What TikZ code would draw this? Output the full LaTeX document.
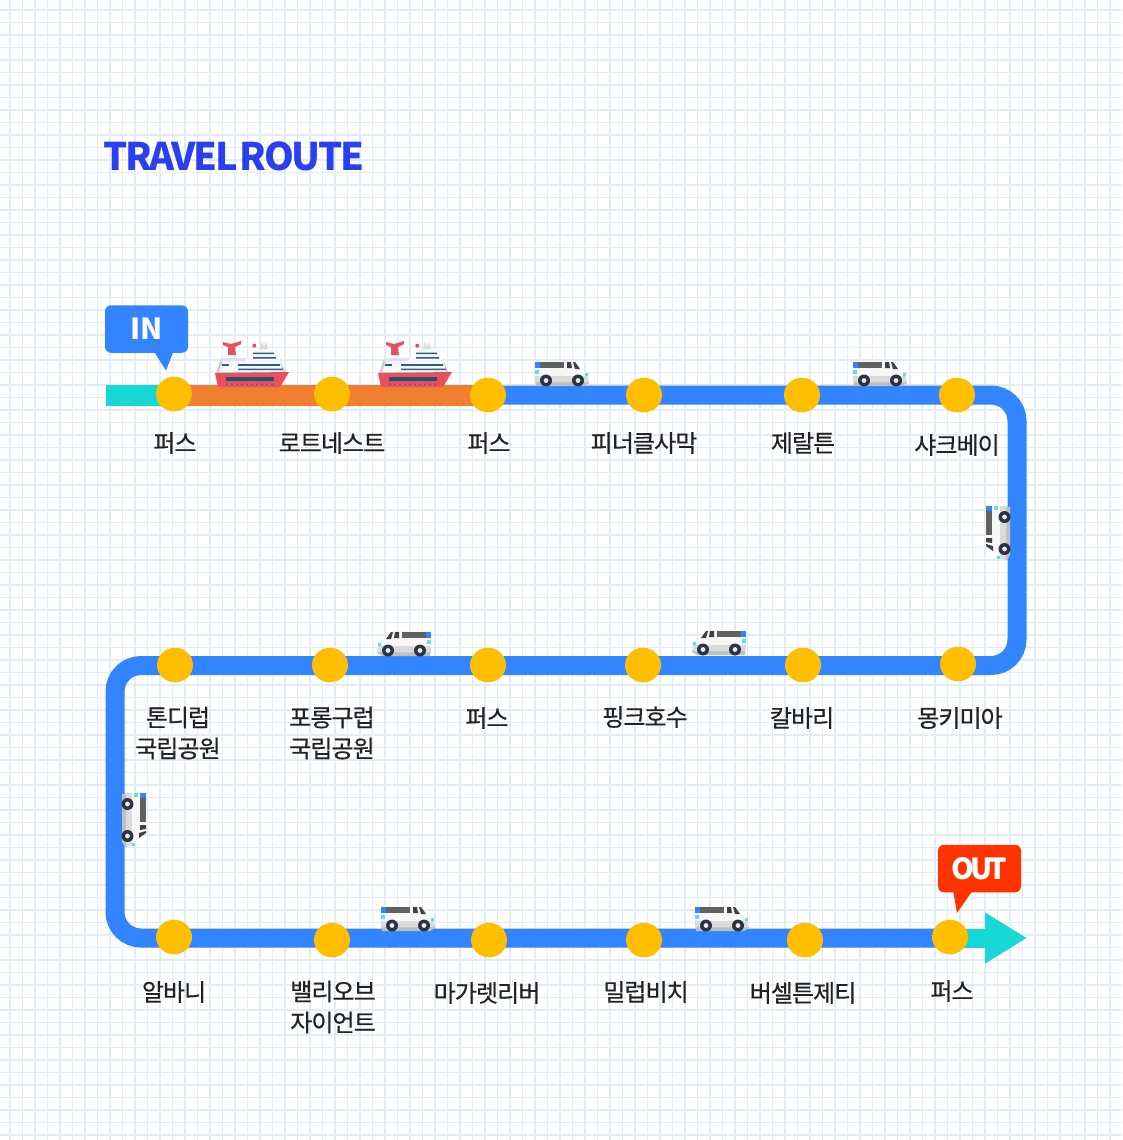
\documentclass[tikz,border=0pt]{standalone}
\usepackage{fontspec}
\setmainfont[LetterSpace=-4,FakeBold=0.45]{Noto Sans CJK KR}
\newfontfamily\headfont[LetterSpace=-6]{Noto Sans CJK KR}
\newfontfamily\tagfont{Noto Sans CJK KR}
\newfontfamily\tighttagfont[LetterSpace=-14]{Noto Sans CJK KR}
\usetikzlibrary{arrows.meta,backgrounds}
\definecolor{gridblue}{HTML}{E2ECF7}
\definecolor{titleblue}{HTML}{2A40F0}
\definecolor{roadblue}{HTML}{3385FF}
\definecolor{roadteal}{HTML}{17D7D7}
\definecolor{roadorange}{HTML}{F08030}
\definecolor{stopyellow}{HTML}{FFBF00}
\definecolor{outred}{HTML}{FF3300}
\definecolor{ink}{HTML}{222222}
\definecolor{hullred}{HTML}{E8505F}
\definecolor{deckblue}{HTML}{2F5F85}
\definecolor{tyre}{HTML}{2B3440}
\tikzset{
  van/.pic={
    \fill[black!25] (-26,-6) -- (27,-6) -- (28,-10) -- (23,-13) -- (-25,-13) -- cycle;
    \fill[black!3] (-26,12) -- (14,12) -- (22,2) -- (27,-1) -- (27,-9) -- (-26,-9) -- cycle;
    \fill[black!14] (-26,-3) -- (27,-3) -- (27,-9) -- (-26,-9) -- cycle;
    \fill[black!62] (-21,11) rectangle (3,5);
    \fill[roadblue] (-26,11) rectangle (-21,5);
    \fill[black!75] (6,11) -- (10,11) -- (11,5) -- (6,5) -- cycle;
    \fill[black!75] (12,11) -- (14,11) -- (19,4) -- (14,4) -- cycle;
    \fill[roadteal!70] (-26,3) rectangle (-22,-1);
    \fill[roadteal!70] (24,0) rectangle (27,-3);
    \foreach \wx in {-15,17}{
      \fill[tyre] (\wx,-7.5) circle (6);
      \fill[black!8] (\wx,-7.5) circle (2.4);
    }
  },
  ship/.pic={
    \fill[black!20] (-35,-9) -- (36,-9) -- (33,-5) -- (29,7) -- (-30,7) -- cycle;
    \fill[black!3] (-27,7) -- (29,7) -- (32,-7) -- (-32,-7) -- cycle;
    \fill[black!3] (2,15) -- (26,15) -- (27,7) -- (2,7) -- cycle;
    \fill[black!15] (9,16) -- (11,23) -- (13,18) -- (15,23) -- (17,16) -- cycle;
    \fill[blue!13] (-30,7) rectangle (-5,4);
    \fill[hullred] (-28,23) -- (-20,21) -- (-10,24) -- (-10,21) -- (-16,18) -- (-15,10) -- (-23,10) -- (-23,18) -- (-28,20) -- cycle;
    \fill[hullred] (3.3,19.3) circle (2);
    \fill[hullred] (-36,-8) -- (38,-7) -- (29,-22) -- (-33,-22) -- cycle;
    \fill[deckblue] (2,12.5) rectangle (23,11) (2,8) rectangle (25,6.5);
    \fill[deckblue] (-13,.8) rectangle (29,-.8) (-13,-3.5) rectangle (32,-5.1);
    \fill[deckblue] (-29,.8) rectangle (-22,-.8);
    \fill[deckblue!85!black] (-25,-11.7) rectangle (23,-15.7);
    \foreach \dx in {-24,-19,...,22}{
      \fill[deckblue] (\dx,-19.3) circle (.9);
    }
  }
}
\begin{document}
\begin{tikzpicture}[
  x=1pt,y=1pt,
  gridline/.style={draw=gridblue,line width=1.5pt},
  road/.style={line width=19pt},
  stop/.style={circle,fill=stopyellow,minimum width=36pt,minimum height=36pt,inner sep=0pt,
    xscale=1,yscale=.96},
  place/.style={font=\fontsize{24}{31}\selectfont,text=ink,align=center,inner sep=0pt},
  bubble/.style={rounded corners=6pt,minimum width=83pt,minimum height=47.5pt,inner sep=0pt,
    text=white,font=\bfseries\fontsize{29}{32}\selectfont}
]
\path[use as bounding box] (0,0) rectangle (1122,-1140);

\node[anchor=west,inner sep=0pt,text=titleblue,font=\headfont\bfseries\fontsize{38}{40}\selectfont]
  (title) at (103,-156.5) {TRAVEL\hspace{-5pt} ROUTE};

% stops, row by row
\node[stop] (s1) at (174,-394) {};
\node[stop] (s2) at (332,-394) {};
\node[stop] (s3) at (488,-395) {};
\node[stop] (s4) at (644,-395) {};
\node[stop] (s5) at (802,-395) {};
\node[stop] (s6) at (957,-395) {};
\node[stop] (s7) at (958,-664) {};
\node[stop] (s8) at (803,-665) {};
\node[stop] (s9) at (643,-665) {};
\node[stop] (s10) at (488,-665) {};
\node[stop] (s11) at (330,-665) {};
\node[stop] (s12) at (175,-665) {};
\node[stop] (s13) at (174,-937) {};
\node[stop] (s14) at (332,-940) {};
\node[stop] (s15) at (489,-940) {};
\node[stop] (s16) at (644,-940) {};
\node[stop] (s17) at (805,-940) {};
\node[stop] (s18) at (950,-937) {};

\coordinate (start) at (106,-395);
\coordinate (bendne) at (1017,-395);
\coordinate (bendse) at (1017,-665.5);
\coordinate (bendsw) at (115,-665.5);
\coordinate (bendnw) at (115,-938);
\coordinate (finish) at (1027,-938);

\begin{scope}[on background layer]
  \foreach \gx in {0,...,88} \draw[gridline] (10+12.5*\gx,0) -- (10+12.5*\gx,-1140);
  \foreach \gy in {0,...,90} \draw[gridline] (0,-10-12.5*\gy) -- (1122,-10-12.5*\gy);
  \draw[road,roadteal,line width=21pt] (start) -- (s1.center |- start);
  \draw[road,roadorange,line width=21pt] (s1.center |- start) -- (s3.center);
  \draw[road,roadblue,rounded corners=26pt] (s3.center) -- (bendne) -- (bendse) -- (bendsw) -- (bendnw) -- (s18.center |- bendnw);
  \draw[road,roadteal,-{Triangle[length=42pt,width=48pt]}] (s18.center |- bendnw) -- (finish);
\end{scope}

% place names
\node[place] (p1) at (175,-443) {퍼스};
\node[place] (p2) at (332,-443) {로트네스트};
\node[place] (p3) at (489,-443) {퍼스};
\node[place] (p4) at (644,-443) {피너클사막};
\node[place] (p5) at (803,-443) {제랄튼};
\node[place] (p6) at (957,-445) {샤크베이};
\node[place] (p7) at (960,-718) {몽키미아};
\node[place] (p8) at (802,-718) {칼바리};
\node[place] (p9) at (645,-717) {핑크호수};
\node[place] (p10) at (487,-718) {퍼스};
\node[place] (p11) at (332,-733) {포롱구럽\\국립공원};
\node[place] (p12) at (178,-733) {톤디럽\\국립공원};
\node[place] (p13) at (174,-992) {알바니};
\node[place] (p14) at (333,-1007) {밸리오브\\자이언트};
\node[place] (p15) at (487,-993) {마가렛리버};
\node[place] (p16) at (646,-992) {밀럽비치};
\node[place] (p17) at (803,-993) {버셀튼제티};
\node[place] (p18) at (952,-991) {퍼스};

% callouts
\node[bubble,fill=roadblue] (inbox) at (146.5,-329) {\tagfont I\hspace{.5pt}N};
\fill[roadblue] (153,-350) -- (166,-370.5) -- (174,-350) -- cycle;
\node[bubble,fill=outred] (outbox) at (979.5,-868.5) {\tighttagfont OUT};
\fill[outred] (953,-890) -- (957,-913) -- (973,-890) -- cycle;

% vehicles
\pic at (251,-365) {ship};
\pic at (414,-365) {ship};
\pic at (561,-373) {van};
\pic at (879,-373) {van};
\pic at (405,-643) [xscale=-1] {van};
\pic at (720,-642) [xscale=-1] {van};
\pic at (407,-918) {van};
\pic at (721,-918) {van};
\pic at (997,-532) [rotate=90,xscale=-1] {van};
\pic at (135,-819) [rotate=-90] {van};
\end{tikzpicture}
\end{document}
